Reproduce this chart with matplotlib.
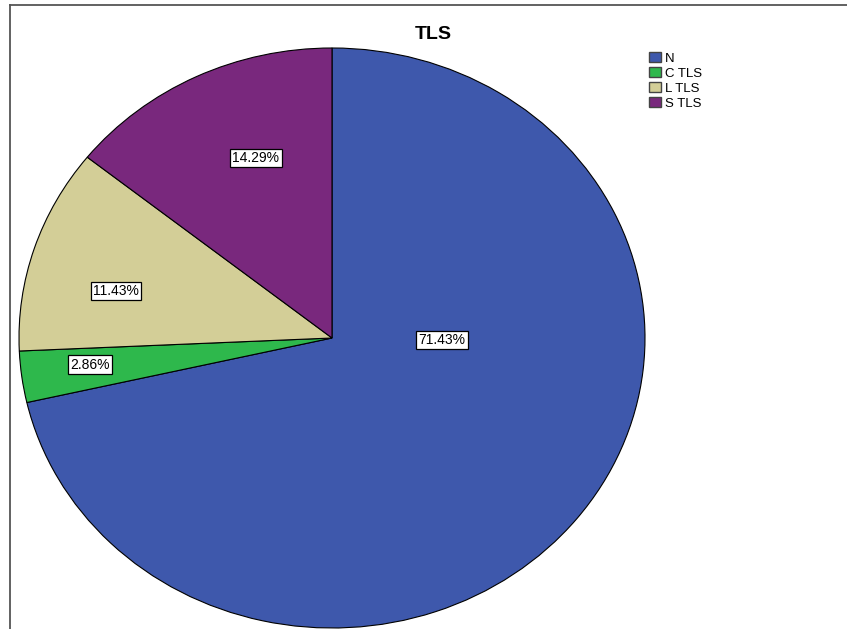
import matplotlib
matplotlib.use("Agg")
import matplotlib.pyplot as plt
from matplotlib.lines import Line2D
from matplotlib.patches import Patch

# ---- data ----
categories = ["N", "C TLS", "L TLS", "S TLS"]
counts = [25, 1, 4, 5]
pct_labels = ["71.43%", "2.86%", "11.43%", "14.29%"]
colors = ["#3E58AC", "#2EB84C", "#D3CE97", "#79287D"]
title = "TLS"

# ---- layout (label anchor positions in pie-normalised units) ----
label_pos = [(0.352, -0.006), (-0.772, -0.092), (-0.690, 0.162), (-0.243, 0.621)]

plt.rcParams["font.family"] = ["Liberation Sans", "DejaVu Sans"]

W, H = 847, 629
fig = plt.figure(figsize=(W / 100, H / 100), dpi=100)

# pie axes: ellipse spanning x 19..645, y 48..628 (pixels from top)
ax = fig.add_axes([19 / W, (H - 628) / H, 626 / W, 580 / H])
ax.pie(counts, colors=colors, startangle=90, counterclock=False, radius=1,
       wedgeprops=dict(edgecolor="black", linewidth=0.8))
ax.set_aspect("auto")
ax.set_xlim(-1, 1)
ax.set_ylim(-1, 1)
ax.axis("off")

for (x, y), t in zip(label_pos, pct_labels):
    ax.text(x, y, t, ha="center", va="center", fontsize=10, color="black",
            bbox=dict(boxstyle="square,pad=0.16", facecolor="white",
                      edgecolor="black", linewidth=0.9))

fig.text(433.5 / W, 1 - 39 / H, title, ha="center", va="baseline",
         fontsize=14, fontweight="bold")

handles = [Patch(facecolor=c, edgecolor="#444444", linewidth=1.0) for c in colors]
fig.legend(handles, categories, loc="upper left",
           bbox_to_anchor=(649 / W, 1 - 52 / H), frameon=False,
           fontsize=9.5, handlelength=0.9, handleheight=0.8,
           handletextpad=0.3, labelspacing=0.18, borderpad=0,
           borderaxespad=0)

# frame lines (top and left)
fig.add_artist(Line2D([9.5 / W, 1.0], [1 - 5 / H, 1 - 5 / H],
                      transform=fig.transFigure, color="#555555", linewidth=1.3))
fig.add_artist(Line2D([9.5 / W, 9.5 / W], [0, 1 - 5 / H],
                      transform=fig.transFigure, color="#555555", linewidth=1.3))

fig.savefig("out.png", dpi=100, facecolor="white")
